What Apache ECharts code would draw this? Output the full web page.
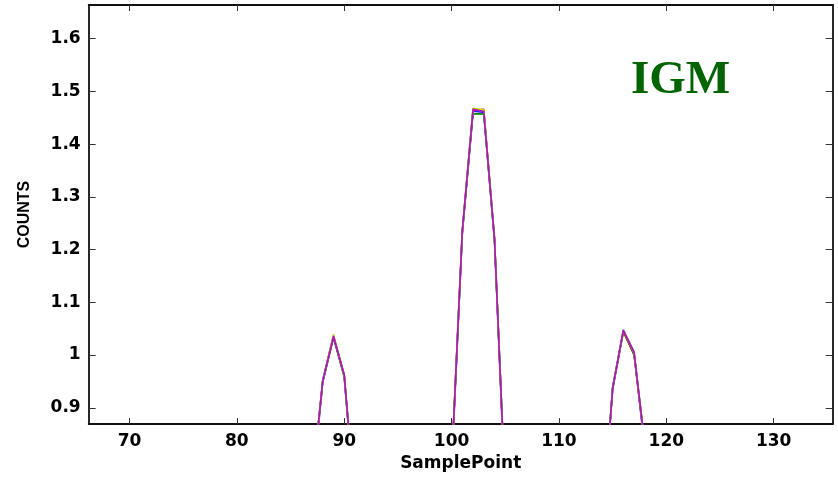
<!DOCTYPE html>
<html>
<head>
<meta charset="utf-8">
<script src="https://cdn.jsdelivr.net/npm/echarts@6/dist/echarts.min.js"></script>
<style>html,body{margin:0;padding:0;background:#fff}#c{width:838px;height:477px}</style>
</head>
<body>
<div id="c"></div>
<script>
var samplePoints = [84,85,86,87,88,89,90,91,92,93,94,95,96,97,98,99,100,101,102,103,104,105,106,107,108,109,110,111,112,113,114,115,116,117,118,119,120,121];
var seriesBlue    = [0.62,0.60,0.64,0.74,0.948,1.033,0.960,0.71,0.63,0.61,0.60,0.62,0.61,0.60,0.63,0.66,0.78,1.230,1.463,1.460,1.215,0.73,0.64,0.61,0.60,0.62,0.61,0.60,0.61,0.63,0.66,0.934,1.045,1.003,0.82,0.66,0.62,0.60];
var seriesGreen   = [0.62,0.60,0.64,0.75,0.950,1.034,0.958,0.72,0.63,0.61,0.60,0.62,0.61,0.60,0.63,0.66,0.79,1.232,1.458,1.457,1.218,0.74,0.64,0.61,0.60,0.62,0.61,0.60,0.61,0.63,0.66,0.938,1.044,1.000,0.83,0.66,0.62,0.60];
var seriesRed     = [0.62,0.60,0.64,0.75,0.952,1.035,0.963,0.72,0.63,0.61,0.60,0.62,0.61,0.60,0.63,0.66,0.79,1.236,1.464,1.466,1.221,0.74,0.64,0.61,0.60,0.62,0.61,0.60,0.61,0.63,0.66,0.937,1.046,1.002,0.83,0.66,0.62,0.60];
var seriesCyan    = [0.62,0.60,0.64,0.75,0.953,1.037,0.962,0.72,0.63,0.61,0.60,0.62,0.61,0.60,0.63,0.66,0.79,1.237,1.467,1.463,1.222,0.74,0.64,0.61,0.60,0.62,0.61,0.60,0.61,0.63,0.66,0.939,1.048,1.006,0.83,0.66,0.62,0.60];
var seriesYellow  = [0.62,0.60,0.64,0.75,0.951,1.039,0.961,0.72,0.63,0.61,0.60,0.62,0.61,0.60,0.63,0.66,0.79,1.234,1.468,1.465,1.219,0.74,0.64,0.61,0.60,0.62,0.61,0.60,0.61,0.63,0.66,0.936,1.047,1.004,0.83,0.66,0.62,0.60];
var seriesMagenta = [0.62,0.60,0.64,0.75,0.951,1.036,0.962,0.72,0.63,0.61,0.60,0.62,0.61,0.60,0.63,0.66,0.79,1.235,1.466,1.462,1.220,0.74,0.64,0.61,0.60,0.62,0.61,0.60,0.61,0.63,0.66,0.936,1.047,1.005,0.83,0.66,0.62,0.60];
var xTicks = [70,80,90,100,110,120,130];
var yTicks = [0.9,1.0,1.1,1.2,1.3,1.4,1.5,1.6];
var xName = 'SamplePoint';
var yName = 'COUNTS';
var titleText = 'IGM';

var seriesList = [
  {name:'b', data: seriesBlue, color:'#2020ff'},
  {name:'g', data: seriesGreen, color:'#008000'},
  {name:'r', data: seriesRed, color:'#ff0000'},
  {name:'c', data: seriesCyan, color:'#00a0a0'},
  {name:'y', data: seriesYellow, color:'#d0d000'},
  {name:'m', data: seriesMagenta, color:'#b010c8'}
];

var chart = echarts.init(document.getElementById('c'), null, {renderer:'canvas'});
var lblFont = {fontFamily:'DejaVu Sans', fontWeight:'bold', fontSize:17, color:'#000'};
var frameLine = {show:true, lineStyle:{color:'#111', width:1.8}};
var tickStyle = {color:'#333', width:1};

function xAxisDef(pos, labels) {
  return {
    type:'value', position:pos, min:66.2, max:135.5,
    axisLine:frameLine,
    axisTick:{show:true, inside:true, length:6, customValues:xTicks, lineStyle:tickStyle},
    axisLabel:Object.assign({show:labels, customValues:xTicks, margin:9}, lblFont),
    splitLine:{show:false},
    name: labels ? xName : '', nameLocation:'middle', nameGap:27,
    nameTextStyle:{fontFamily:'DejaVu Sans', fontWeight:'bold', fontSize:17, color:'#000'}
  };
}
function yAxisDef(pos, labels) {
  return {
    type:'value', position:pos, min:0.869, max:1.664,
    axisLine:frameLine,
    axisTick:{show:true, inside:true, length:7, customValues:yTicks, lineStyle:tickStyle},
    axisLabel:Object.assign({show:labels, customValues:yTicks, margin:8,
      formatter:function(v){ return String(Math.round(v*10)/10); }}, lblFont),
    splitLine:{show:false},
    name: labels ? yName : '', nameLocation:'middle', nameGap:56, nameRotate:90,
    nameTextStyle:{fontFamily:'Liberation Sans', fontWeight:'bold', fontSize:16, color:'#000'}
  };
}

chart.setOption({
  animation:false,
  backgroundColor:'#fff',
  grid:{left:88.7, right:5.3, top:5, bottom:46.3, containLabel:false},
  xAxis:[xAxisDef('bottom', true), xAxisDef('top', false)],
  yAxis:[yAxisDef('left', true), yAxisDef('right', false)],
  title:{text:titleText, left:626, top:52,
    textStyle:{fontFamily:'Liberation Serif', fontWeight:'bold', fontSize:47, color:'#006400'}},
  series: seriesList.map(function(s){
    return {
      type:'line', name:s.name, xAxisIndex:0, yAxisIndex:0,
      data: samplePoints.map(function(x,i){ return [x, s.data[i]]; }),
      showSymbol:false, symbol:'none', clip:true,
      lineStyle:{color:s.color, width:1.6}, itemStyle:{color:s.color}
    };
  })
});
</script>
</body>
</html>
